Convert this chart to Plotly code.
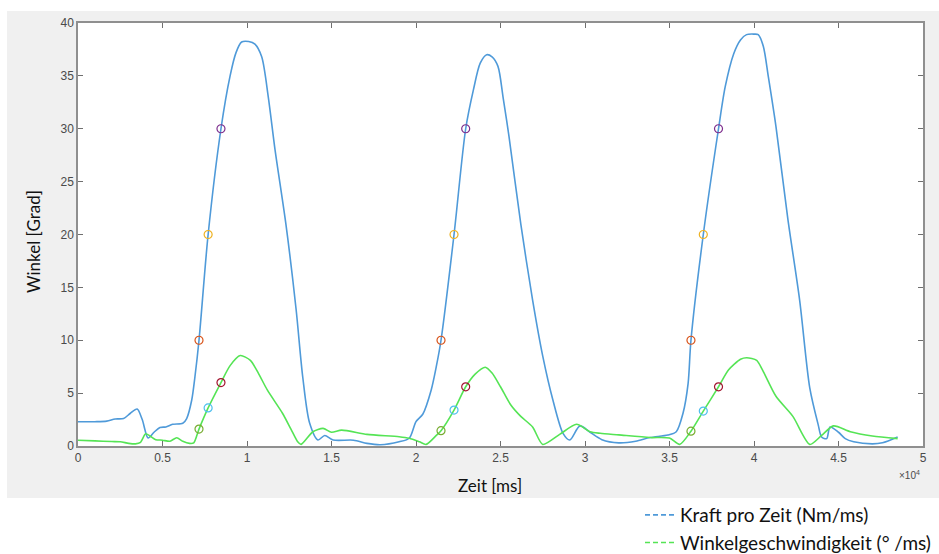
import plotly.graph_objects as go

# ---- data (time in ms) ----
kraft_t = [0, 1000, 1700, 2200, 2700, 3100, 3500, 3800, 4150, 4500, 4850, 5200, 5600, 6200,
           6430, 6730, 6920, 7160, 7700, 8460, 9000, 9350, 9680, 10100, 10470, 10870, 11260, 11660,
           12300, 12900, 13300, 13700, 14200, 14600, 15100, 16300, 17100, 17900, 19000, 19600,
           20000, 20400, 20900, 21200, 21480, 22250, 22940, 23400, 23800, 24180, 24500, 24850,
           25150, 25500, 26200, 26900, 27500, 28100, 28700, 29100, 29700, 30300, 31000, 32000,
           33000, 33850, 34900, 35400, 35800, 36100, 36270, 37000, 37900, 38300, 38800, 39200, 39560,
           40000, 40250, 40550, 40850, 41300, 42000, 42700, 43300, 43800, 44000, 44300, 44500,
           45000, 45400, 45900, 47000, 47600, 48500]
kraft_v = [2.3, 2.3, 2.35, 2.55, 2.6, 3.1, 3.5, 2.5, 0.75, 1.3, 1.75, 1.8, 2.05, 2.15,
           2.6, 4.35, 6.55, 10, 20, 30, 35.0, 37.2, 38.2, 38.25, 38.0, 36.8, 33, 28,
           21, 13, 6.5, 2.2, 0.57, 1.0, 0.57, 0.55, 0.25, 0.12, 0.4, 0.73,
           2.3, 3.0, 5.3, 7.5, 10, 20, 30, 33.7, 36.2, 37.0, 36.8, 35.9,
           33.0, 29.3, 21, 13.8, 8.5, 4.35, 1.2, 0.57, 1.9, 1.3, 0.6, 0.3,
           0.45, 0.8, 1.04, 1.35, 3.1, 5.9, 10, 20, 30, 34, 37.1, 38.4, 38.9,
           38.95, 38.9, 37.8, 34.9, 30.2, 21.5, 13.8, 5.5, 2.0, 0.85, 0.7, 1.8,
           1.3, 0.7, 0.4, 0.2, 0.3, 0.85]

winkel_t = [0, 1000, 2000, 2500, 3000, 3400, 3700, 4000, 4260, 4600, 5000, 5440, 5840, 6200,
            6600, 6850, 7160, 7700, 8460, 9000, 9600, 10200, 10700, 11200, 12100, 12600, 13000,
            13200, 13900, 14500, 15000, 15600, 17100, 19000, 19600, 20200, 20600, 21200, 21480,
            22250, 22940, 23500, 24100, 24500, 25000, 25600, 26200, 26900, 27500, 28500, 29500,
            30300, 30900, 32000, 33850, 35000, 35600, 36270, 37000, 37900, 38500, 39200, 39570,
            40160, 40500, 41300, 42300, 43300, 44000, 44700, 45700, 47000, 48500]
winkel_v = [0.54, 0.48, 0.42, 0.4, 0.25, 0.2, 0.35, 1.15, 0.95, 0.6, 0.55, 0.45, 0.78, 0.45,
            0.25, 0.3, 1.6, 3.6, 6.0, 7.6, 8.55, 8.1, 6.8, 5.3, 3.1, 1.6, 0.4,
            0.15, 1.35, 1.67, 1.3, 1.5, 1.1, 0.88, 0.73, 0.4, 0.15, 1.0, 1.45,
            3.4, 5.6, 6.8, 7.45, 6.9, 5.6, 3.9, 2.8, 1.8, 0.15, 1.1, 2.05,
            1.35, 1.2, 1.05, 0.8, 0.75, 0.15, 1.4, 3.3, 5.6, 7.2, 8.2, 8.35,
            8.1, 7.2, 4.7, 2.8, 0.15, 1.0, 1.9, 1.35, 0.95, 0.7]

# circle markers on the rising edges
kraft_mark10_t = [7160, 21480, 36270]
kraft_mark10_v = [10, 10, 10]
kraft_mark20_t = [7700, 22250, 37000]
kraft_mark20_v = [20, 20, 20]
kraft_mark30_t = [8460, 22940, 37900]
kraft_mark30_v = [30, 30, 30]
winkel_mark1_t = [7160, 21480, 36270]
winkel_mark1_v = [1.6, 1.45, 1.4]
winkel_mark2_t = [7700, 22250, 37000]
winkel_mark2_v = [3.6, 3.4, 3.3]
winkel_mark3_t = [8460, 22940, 37900]
winkel_mark3_v = [6.0, 5.6, 5.6]

x_tickvals = [0, 5000, 10000, 15000, 20000, 25000, 30000, 35000, 40000, 45000, 50000]
x_ticktext = ["0", "0.5", "1", "1.5", "2", "2.5", "3", "3.5", "4", "4.5", "5"]
y_tickvals = [0, 5, 10, 15, 20, 25, 30, 35, 40]

legend_names = ["Kraft pro Zeit (Nm/ms)", "Winkelgeschwindigkeit (° /ms)"]

# ---- styles ----
BLUE = "#4f9ad9"
GREEN = "#55e455"
mark_styles = [
    (kraft_mark10_t, kraft_mark10_v, "#D95319"),
    (kraft_mark20_t, kraft_mark20_v, "#EDB120"),
    (kraft_mark30_t, kraft_mark30_v, "#7E2F8E"),
    (winkel_mark1_t, winkel_mark1_v, "#77AC30"),
    (winkel_mark2_t, winkel_mark2_v, "#4DBEEE"),
    (winkel_mark3_t, winkel_mark3_v, "#A2142F"),
]

fig = go.Figure()
fig.add_trace(go.Scatter(x=kraft_t, y=kraft_v, mode="lines",
                         line=dict(color=BLUE, width=1.6, shape="spline", smoothing=0.8),
                         showlegend=False, hoverinfo="skip"))
fig.add_trace(go.Scatter(x=winkel_t, y=winkel_v, mode="lines",
                         line=dict(color=GREEN, width=1.6, shape="spline", smoothing=0.7),
                         showlegend=False, hoverinfo="skip"))
for mt, mv, col in mark_styles:
    fig.add_trace(go.Scatter(x=mt, y=mv, mode="markers",
                             marker=dict(symbol="circle-open", size=8, color=col,
                                         line=dict(width=1.2, color=col)),
                             showlegend=False, hoverinfo="skip"))

# legend-only entries (dashed samples as in the reference)
for name, col in zip(legend_names, [BLUE, GREEN]):
    fig.add_trace(go.Scatter(x=[None], y=[None], mode="lines", name=name,
                             line=dict(color=col, width=1.6, dash="5px,3px")))

L, R, T, B = 78, 16, 23, 108
W, H = 939, 554
pw, ph = W - L - R, H - T - B

def px(x):
    return (x - L) / pw

def py(y):
    return (H - B - y) / ph

shapes = [
    dict(type="rect", xref="paper", yref="paper", x0=px(7), x1=px(945), y0=py(498), y1=py(11),
         fillcolor="#f0f0f0", line=dict(width=0), layer="below"),
    dict(type="rect", xref="paper", yref="paper", x0=0, x1=1, y0=0, y1=1,
         fillcolor="white", line=dict(width=0), layer="below"),
]

axis_common = dict(showline=True, mirror="ticks", linecolor="#8f8f8f", linewidth=1.5,
                   ticks="inside", ticklen=5, tickcolor="#6f6f6f", tickwidth=1.2,
                   showgrid=False, zeroline=False,
                   tickfont=dict(family="Liberation Sans, Arial", size=12, color="#4a4a4a"))

fig.update_layout(
    width=W, height=H,
    margin=dict(l=L, r=R, t=T, b=B, autoexpand=False),
    paper_bgcolor="white", plot_bgcolor="white",
    shapes=shapes,
    xaxis=dict(range=[0, 50000], tickvals=x_tickvals, ticktext=x_ticktext, **axis_common),
    yaxis=dict(range=[0, 40], tickvals=y_tickvals, **axis_common),
    showlegend=True,
    legend=dict(x=px(640), y=py(496), xanchor="left", yanchor="top",
                bgcolor="rgba(0,0,0,0)", font=dict(family="Lato, Open Sans", size=19, color="#111111"),
                tracegroupgap=0, itemwidth=30),
    annotations=[
        dict(text="Winkel [Grad]", xref="paper", yref="paper", x=px(33), y=py(242),
             xanchor="center", yanchor="middle",
             textangle=-90, showarrow=False, font=dict(family="Lato, Open Sans", size=17, color="#111111")),
        dict(text="Zeit [ms]", xref="paper", yref="paper", x=px(490), y=py(486),
             xanchor="center", yanchor="middle",
             showarrow=False, font=dict(family="Lato, Open Sans", size=17, color="#111111")),
        dict(text="×10<sup>4</sup>", xref="paper", yref="paper", x=px(922), y=py(475),
             xanchor="right", yanchor="middle", showarrow=False,
             font=dict(family="Liberation Sans, Arial", size=10, color="#4a4a4a")),
    ],
)

fig.write_html("out.html")
